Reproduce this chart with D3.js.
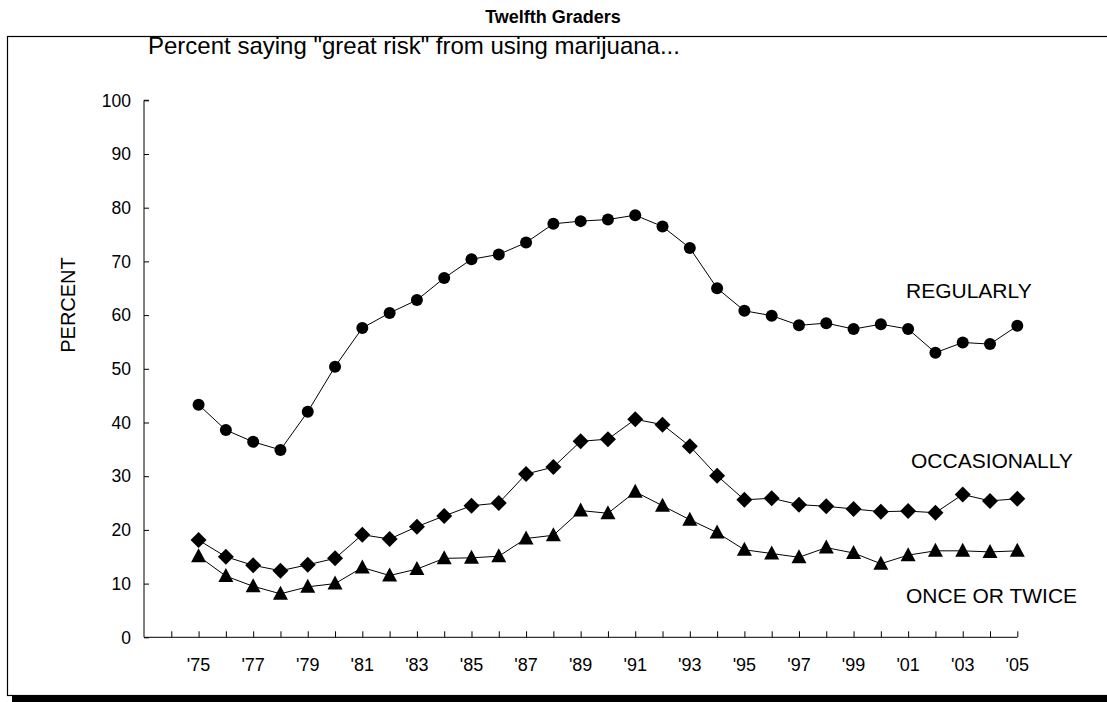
<!DOCTYPE html>
<html>
<head>
<meta charset="utf-8">
<script src="https://cdn.jsdelivr.net/npm/d3@7"></script>
<style>
  html, body { margin: 0; padding: 0; background: #fff; }
  svg { display: block; font-family: Arial, "Liberation Sans", sans-serif; }
</style>
</head>
<body>
<svg id="chart" width="1107" height="702"></svg>
<script>
const years = d3.range(1975, 2006);
const tickYears = d3.range(1974, 2006);
const yearLabels = ["'75","'77","'79","'81","'83","'85","'87","'89","'91","'93","'95","'97","'99","'01","'03","'05"];
const yTicks = [0,10,20,30,40,50,60,70,80,90,100];

const regularly = [43.3,38.6,36.4,34.9,42.0,50.4,57.6,60.4,62.8,66.9,70.4,71.3,73.5,77.0,77.5,77.8,78.6,76.5,72.5,65.0,60.8,59.9,58.1,58.5,57.4,58.3,57.4,53.0,54.9,54.6,58.0];
const occasionally = [18.1,15.0,13.4,12.4,13.5,14.7,19.1,18.3,20.6,22.6,24.5,25.0,30.4,31.7,36.5,36.9,40.6,39.6,35.6,30.1,25.6,25.9,24.7,24.4,23.9,23.4,23.5,23.2,26.6,25.4,25.8];
const onceTwice = [15.1,11.4,9.5,8.1,9.4,10.0,13.0,11.5,12.7,14.7,14.8,15.1,18.4,19.0,23.6,23.1,27.1,24.5,21.9,19.5,16.3,15.6,14.9,16.7,15.7,13.7,15.3,16.1,16.1,15.9,16.1];

const seriesNames = ["REGULARLY","OCCASIONALLY","ONCE OR TWICE"];
const titleText = "Twelfth Graders";
const subtitleText = "Percent saying \"great risk\" from using marijuana...";
const yAxisTitle = "PERCENT";

const svg = d3.select("#chart");

// frame with shadow
svg.append("rect").attr("x", 12).attr("y", 41).attr("width", 1110).attr("height", 661).attr("fill", "#000");
svg.append("rect").attr("x", 7.5).attr("y", 36.5).attr("width", 1110).attr("height", 659)
  .attr("fill", "#fff").attr("stroke", "#000").attr("stroke-width", 1.2);

svg.append("text").attr("x", 553).attr("y", 23).attr("text-anchor", "middle")
  .attr("font-size", 18).attr("font-weight", "bold").text(titleText);

svg.append("text").attr("x", 148).attr("y", 54)
  .attr("font-size", 24).text(subtitleText);

const x = d3.scaleLinear().domain([1973, 2005]).range([144, 1017.3]);
const y = d3.scaleLinear().domain([0, 100]).range([637.3, 100.3]);

// y axis
const yAxis = d3.axisRight(y).tickValues(yTicks).tickSize(5).tickFormat("");
const gy = svg.append("g").attr("transform", "translate(144,0)").call(yAxis);
gy.select(".domain").attr("d", `M5,${y(100)}H0V${y(0)}`);
gy.selectAll("line,path").attr("stroke", "#000").attr("stroke-width", 1);

yTicks.forEach(v => {
  svg.append("text").attr("x", 131).attr("y", y(v) + 6.2).attr("text-anchor", "end")
    .attr("font-size", 17.5).text(v);
});

// x axis
const xAxis = d3.axisTop(x).tickValues(tickYears).tickSize(6).tickFormat("");
const gx = svg.append("g").attr("transform", `translate(0,${y(0)})`).call(xAxis);
gx.select(".domain").attr("d", `M${x(1973)},0H${x(2005)}`);
gx.selectAll("line,path").attr("stroke", "#000").attr("stroke-width", 1);

yearLabels.forEach((lab, i) => {
  const yr = 1975 + i * 2;
  svg.append("text").attr("x", x(yr)).attr("y", 671).attr("text-anchor", "middle")
    .attr("font-size", 18).text(lab);
});

svg.append("text").attr("transform", `translate(75,305) rotate(-90)`)
  .attr("text-anchor", "middle").attr("font-size", 20).text(yAxisTitle);

const line = d3.line().x((d, i) => x(years[i])).y(d => y(d));

const all = [regularly, occasionally, onceTwice];
all.forEach(s => {
  svg.append("path").datum(s).attr("d", line).attr("fill", "none")
    .attr("stroke", "#000").attr("stroke-width", 1);
});

// markers
svg.append("g").selectAll("circle").data(regularly).join("circle")
  .attr("cx", (d, i) => x(years[i])).attr("cy", d => y(d)).attr("r", 6).attr("fill", "#000");

svg.append("g").selectAll("path").data(occasionally).join("path")
  .attr("transform", (d, i) => `translate(${x(years[i])},${y(d)})`)
  .attr("d", "M0,-8L8,0L0,8L-8,0Z").attr("fill", "#000");

svg.append("g").selectAll("path").data(onceTwice).join("path")
  .attr("transform", (d, i) => `translate(${x(years[i])},${y(d)})`)
  .attr("d", "M0,-8L7.5,6L-7.5,6Z").attr("fill", "#000");

// series labels
const labelPos = [[906, 298], [911, 468], [906, 603]];
seriesNames.forEach((n, i) => {
  svg.append("text").attr("x", labelPos[i][0]).attr("y", labelPos[i][1])
    .attr("font-size", 21).text(n);
});
</script>
</body>
</html>
